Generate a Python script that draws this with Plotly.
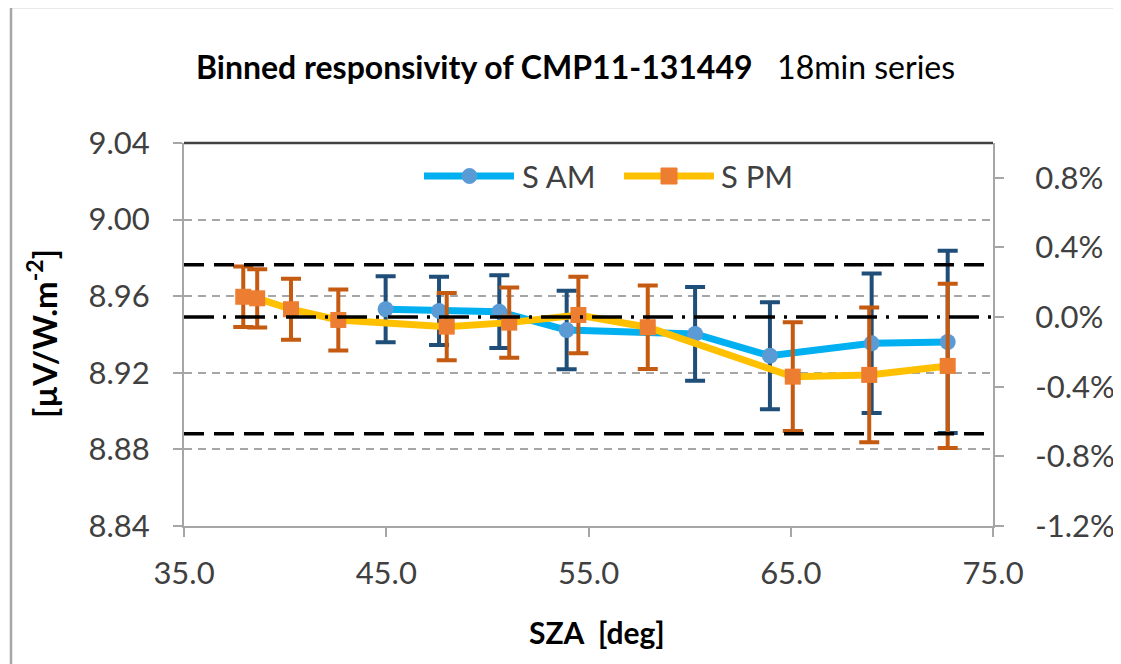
import plotly.graph_objects as go

# ---------------- data ----------------
am_sza = [44.97, 47.61, 50.59, 53.92, 60.27, 63.97, 69.0, 72.76]
am_resp = [8.9532, 8.9523, 8.9519, 8.9423, 8.9403, 8.9289, 8.9354, 8.9361]
am_err = [0.0172, 0.0178, 0.0190, 0.0205, 0.0245, 0.0279, 0.0364, 0.0476]

pm_sza = [37.93, 38.62, 40.29, 42.63, 47.99, 51.08, 54.5, 57.93, 65.1, 68.88, 72.76]
pm_resp = [8.9597, 8.9589, 8.9532, 8.9476, 8.9441, 8.9462, 8.9502, 8.9438, 8.9180, 8.9189, 8.9236]
pm_err = [0.0158, 0.0152, 0.0159, 0.0159, 0.0176, 0.0183, 0.0200, 0.0218, 0.0284, 0.0352, 0.0429]

series_names = ["S AM", "S PM"]

ref_x = [35, 75]
band_pct = [0.3, -0.67]   # dashed limit lines (right axis, %)
center_pct = [0.0]        # dash-dot reference line (right axis, %)

left_ticks = [8.84, 8.88, 8.92, 8.96, 9.00, 9.04]
right_ticks = [-1.2, -0.8, -0.4, 0.0, 0.4, 0.8]
right_ticktext = ["%.1f%%" % v for v in right_ticks]
x_ticks = [35, 45, 55, 65, 75]

title_bold = "Binned responsivity of CMP11-131449"
title_rest = "18min series"
y_title = "[\u00b5V/W.m<sup>-2</sup>]"
x_title = "SZA  [deg]"

FONT = "Lato"
TXT = "#404040"
TICK_SIZE = 31

# ---------------- layout geometry (page pixels) ----------------
PAGE_W, PAGE_H = 1121, 664
OX, OY = 8, 8                       # page body margin of the html wrapper
L, R, T, B = 184, 993, 143, 526     # plot area in page pixels
pw, ph = R - L, B - T
FIG_W, FIG_H = PAGE_W - OX, PAGE_H - OY


def px(xp):
    return (xp - L) / pw


def py(yp):
    return (B - yp) / ph


fig = go.Figure()

fig.add_trace(go.Scatter(
    x=am_sza, y=am_resp, name=series_names[0], mode="lines+markers",
    line=dict(color="#00B0F0", width=7),
    marker=dict(symbol="circle", size=16, color="#5B9BD5"),
    error_y=dict(type="data", array=am_err, visible=True, color="#1F4E79",
                 thickness=4, width=10),
    showlegend=False,
))
fig.add_trace(go.Scatter(
    x=pm_sza, y=pm_resp, name=series_names[1], mode="lines+markers",
    line=dict(color="#FFC000", width=7),
    marker=dict(symbol="square", size=16, color="#ED7D31"),
    error_y=dict(type="data", array=pm_err, visible=True, color="#C55A11",
                 thickness=4, width=10),
    showlegend=False,
))

for v in band_pct:
    fig.add_trace(go.Scatter(
        x=ref_x, y=[v, v], yaxis="y2", mode="lines", showlegend=False,
        line=dict(color="black", width=3.5, dash="20px,10px"), hoverinfo="skip",
    ))
for v in center_pct:
    fig.add_trace(go.Scatter(
        x=ref_x, y=[v, v], yaxis="y2", mode="lines", showlegend=False,
        line=dict(color="black", width=3.5, dash="30px,9px,3px,9px"), hoverinfo="skip",
    ))

shapes = []
# top border of the plot area
shapes.append(dict(type="line", xref="paper", yref="paper", x0=0, x1=1, y0=1, y1=1,
                   line=dict(color="#404040", width=2.5)))
# outer chart border (left + top)
shapes.append(dict(type="line", xref="paper", yref="paper", x0=px(11), x1=px(11),
                   y0=py(7), y1=py(PAGE_H + 5), line=dict(color="#A6A6A6", width=2.5)))
shapes.append(dict(type="line", xref="paper", yref="paper", x0=px(11), x1=px(PAGE_W + 5),
                   y0=py(7), y1=py(7), line=dict(color="#A6A6A6", width=2.5)))

# custom legend
leg_y = 176
shapes.append(dict(type="line", xref="paper", yref="paper", x0=px(424), x1=px(514),
                   y0=py(leg_y), y1=py(leg_y), line=dict(color="#00B0F0", width=7)))
shapes.append(dict(type="circle", xref="paper", yref="paper", x0=px(462), x1=px(477),
                   y0=py(leg_y + 7.5), y1=py(leg_y - 7.5), fillcolor="#5B9BD5",
                   line=dict(color="#5B9BD5", width=1)))
shapes.append(dict(type="line", xref="paper", yref="paper", x0=px(624), x1=px(714),
                   y0=py(leg_y), y1=py(leg_y), line=dict(color="#FFC000", width=7)))
shapes.append(dict(type="rect", xref="paper", yref="paper", x0=px(661), x1=px(677),
                   y0=py(leg_y + 8), y1=py(leg_y - 8), fillcolor="#ED7D31",
                   line=dict(color="#ED7D31", width=1)))

annotations = [
    dict(text=series_names[0], xref="paper", yref="paper", x=px(520), y=py(leg_y),
         xanchor="left", yanchor="middle", showarrow=False,
         font=dict(family=FONT, size=TICK_SIZE, color=TXT)),
    dict(text=series_names[1], xref="paper", yref="paper", x=px(719), y=py(leg_y),
         xanchor="left", yanchor="middle", showarrow=False,
         font=dict(family=FONT, size=TICK_SIZE, color=TXT)),
    dict(text="<b>%s</b>   <span style='font-weight:normal'>%s</span>" % (title_bold, title_rest),
         xref="paper", yref="paper", x=px(575), y=py(66), xanchor="center", yanchor="middle",
         showarrow=False, font=dict(family=FONT, size=32, color="black")),
    dict(text="<b>%s</b>" % y_title, xref="paper", yref="paper", x=px(42), y=py(334),
         xanchor="center", yanchor="middle", textangle=-90, showarrow=False,
         font=dict(family=FONT, size=33, color="black")),
    dict(text="<b>%s</b>" % x_title, xref="paper", yref="paper", x=px(597), y=py(632),
         xanchor="center", yanchor="middle", showarrow=False,
         font=dict(family=FONT, size=30, color="black")),
]

axis_common = dict(zeroline=False, showline=True, linecolor="#A6A6A6", linewidth=2,
                   ticks="outside", ticklen=9, tickwidth=1.5, tickcolor="#A6A6A6",
                   automargin=False)

fig.update_layout(
    width=FIG_W, height=FIG_H, autosize=False,
    margin=dict(l=L - OX, r=PAGE_W - R, t=T - OY, b=PAGE_H - B, pad=0, autoexpand=False),
    paper_bgcolor="white", plot_bgcolor="white",
    showlegend=False,
    font=dict(family=FONT, color=TXT),
    shapes=shapes, annotations=annotations,
    xaxis=dict(range=[35, 75], tickvals=x_ticks, tickformat=".1f", showgrid=False,
               tickfont=dict(family=FONT, size=TICK_SIZE, color=TXT),
               ticklabelstandoff=10, **axis_common),
    yaxis=dict(range=[8.84, 9.04], tickvals=left_ticks, tickformat=".2f",
               showgrid=True, gridcolor="#A6A6A6", gridwidth=1.5, griddash="8px,6px",
               tickfont=dict(family=FONT, size=TICK_SIZE, color=TXT),
               ticklabelstandoff=17, **axis_common),
    yaxis2=dict(range=[-1.2, 1.0], overlaying="y", side="right",
                tickvals=right_ticks, ticktext=right_ticktext, showgrid=False,
                tickfont=dict(family=FONT, size=TICK_SIZE, color=TXT),
                ticklabelstandoff=25, **axis_common),
)

fig.write_html("out.html", config={"responsive": False})
